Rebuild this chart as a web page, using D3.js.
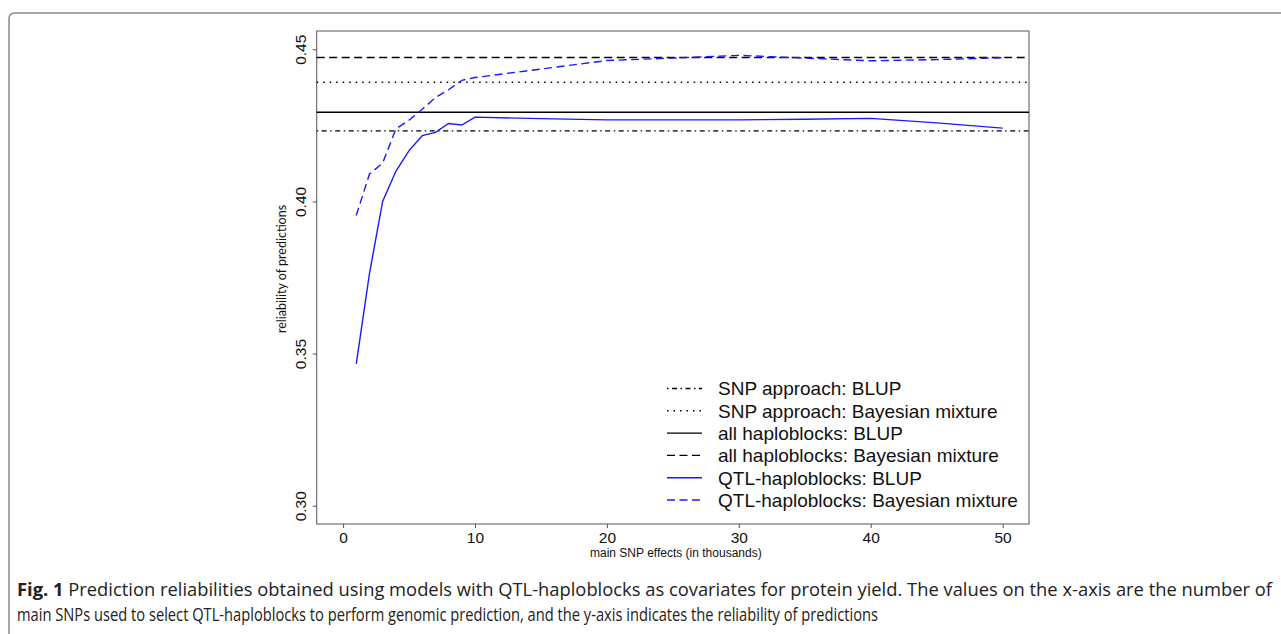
<!DOCTYPE html>
<html>
<head>
<meta charset="utf-8">
<script src="https://cdn.jsdelivr.net/npm/d3@7"></script>
<style>
  html, body { margin: 0; padding: 0; background: #fff; }
  svg { display: block; }
</style>
</head>
<body>
<div id="viz"></div>
<script>
// main SNP effects (in thousands)
var snpCounts = [1, 2, 3, 4, 5, 6, 7, 8, 9, 10, 15, 20, 25, 30, 35, 40, 45, 50];
// QTL-haploblocks reliabilities
var qtlBlup  = [0.3466, 0.3763, 0.4000, 0.4099, 0.4167, 0.4216, 0.4227, 0.4256, 0.4251, 0.4277,
                0.4272, 0.4268, 0.4268, 0.4268, 0.4270, 0.4273, 0.4258, 0.4241];
var qtlBayes = [0.3954, 0.4090, 0.4126, 0.4238, 0.4267, 0.4303, 0.4341, 0.4367, 0.4398, 0.4407,
                0.4435, 0.4463, 0.4471, 0.4480, 0.4471, 0.4462, 0.4466, 0.4472];
// constant reference reliabilities
var refNames  = ["SNP approach: BLUP", "SNP approach: Bayesian mixture",
                 "all haploblocks: BLUP", "all haploblocks: Bayesian mixture"];
var refValues = [0.4232, 0.4392, 0.4293, 0.4473];
var xTicks = [0, 10, 20, 30, 40, 50];
var yTicks = [0.30, 0.35, 0.40, 0.45];
var legendNames = refNames.concat(["QTL-haploblocks: BLUP", "QTL-haploblocks: Bayesian mixture"]);

var width = 1281, height = 634;
var plot = {left: 316.7, right: 1029, top: 31, bottom: 524};

var svg = d3.select("#viz").append("svg")
    .attr("width", width)
    .attr("height", height);

// figure frame (rounded top-left corner, runs off the page)
svg.append("path")
    .attr("d", "M9,640 V19 Q9,13 15,13 H1290")
    .attr("fill", "none")
    .attr("stroke", "#888")
    .attr("stroke-width", 1.5);

var x = d3.scaleLinear().domain([-2, 52]).range([plot.left, plot.right]);
var y = d3.scaleLinear().domain([0.294, 0.456]).range([plot.bottom, plot.top]);

var styles = [
  {color: "#000", dash: "1.5,3.5,5,3.5", width: 1.3},   // dash-dot
  {color: "#000", dash: "1.5,5",         width: 1.5},   // dotted
  {color: "#000", dash: null,            width: 1.3},   // solid
  {color: "#000", dash: "8,4.5",         width: 1.4},   // dashed
  {color: "#1a1aff", dash: null,         width: 1.4},
  {color: "#1a1aff", dash: "8,4.5",      width: 1.4}
];

var tickFont = "'Liberation Sans', Arial, sans-serif";

// plot box
svg.append("rect")
    .attr("x", plot.left).attr("y", plot.top)
    .attr("width", plot.right - plot.left)
    .attr("height", plot.bottom - plot.top)
    .attr("fill", "none")
    .attr("stroke", "#555")
    .attr("stroke-width", 1);

// x axis
var xAxis = svg.append("g")
    .attr("transform", "translate(0," + plot.bottom + ")")
    .call(d3.axisBottom(x).tickValues(xTicks).tickSize(4).tickPadding(4).tickFormat(d3.format("d")));
xAxis.select(".domain").remove();
xAxis.selectAll("line").attr("stroke", "#555");
xAxis.selectAll("text")
    .attr("font-family", tickFont)
    .attr("font-size", 15.5)
    .attr("fill", "#111");

// y axis, labels parallel to the axis as in R
var yAxis = svg.append("g")
    .attr("transform", "translate(" + plot.left + ",0)")
    .call(d3.axisLeft(y).tickValues(yTicks).tickSize(4).tickFormat(d3.format(".2f")));
yAxis.select(".domain").remove();
yAxis.selectAll("line").attr("stroke", "#555");
yAxis.selectAll("text")
    .attr("font-family", tickFont)
    .attr("font-size", 15.5)
    .attr("fill", "#111")
    .attr("x", null).attr("dy", null)
    .attr("text-anchor", "middle")
    .attr("transform", "translate(-11,0) rotate(-90)");

// axis titles
svg.append("text")
    .attr("x", (plot.left + plot.right) / 2 + 3)
    .attr("y", 557)
    .attr("text-anchor", "middle")
    .attr("font-family", tickFont)
    .attr("font-size", 12)
    .attr("fill", "#111")
    .text("main SNP effects (in thousands)");

svg.append("text")
    .attr("transform", "translate(286,269) rotate(-90)")
    .attr("text-anchor", "middle")
    .attr("font-family", "Lato, 'Open Sans', sans-serif")
    .attr("font-size", 12.5)
    .attr("fill", "#111")
    .text("reliability of predictions");

var g = svg.append("g");

// reference lines across the plot
g.selectAll(".ref")
    .data(refValues)
    .enter()
    .append("line")
    .attr("class", "ref")
    .attr("x1", plot.left).attr("x2", plot.right)
    .attr("y1", function(d) { return y(d); })
    .attr("y2", function(d) { return y(d); })
    .attr("stroke", function(d, i) { return styles[i].color; })
    .attr("stroke-width", function(d, i) { return styles[i].width; })
    .attr("stroke-dasharray", function(d, i) { return styles[i].dash; });

// QTL curves
var line = d3.line()
    .x(function(d) { return x(d[0]); })
    .y(function(d) { return y(d[1]); });

[qtlBlup, qtlBayes].forEach(function(series, k) {
  var st = styles[4 + k];
  g.append("path")
      .datum(d3.zip(snpCounts, series))
      .attr("d", line)
      .attr("fill", "none")
      .attr("stroke", st.color)
      .attr("stroke-width", st.width)
      .attr("stroke-dasharray", st.dash);
});

// legend (no box)
var legend = svg.append("g").attr("transform", "translate(667,388.5)");
var rows = legend.selectAll(".row")
    .data(legendNames)
    .enter()
    .append("g")
    .attr("transform", function(d, i) { return "translate(0," + (i * 22.3) + ")"; });
rows.append("line")
    .attr("x1", 0).attr("x2", 35)
    .attr("stroke", function(d, i) { return styles[i].color; })
    .attr("stroke-width", function(d, i) { return styles[i].width; })
    .attr("stroke-dasharray", function(d, i) { return styles[i].dash; });
rows.append("text")
    .attr("x", 51)
    .attr("dy", "0.36em")
    .attr("font-family", tickFont)
    .attr("font-size", 19)
    .attr("fill", "#111")
    .text(function(d) { return d; });

// caption
var capFont = "'Open Sans', 'Noto Sans', sans-serif";
var cap1 = svg.append("text")
    .attr("x", 17).attr("y", 596)
    .attr("font-family", capFont)
    .attr("font-size", 18.5)
    .attr("fill", "#222")
    .attr("textLength", 1255)
    .attr("lengthAdjust", "spacingAndGlyphs");
cap1.append("tspan").attr("font-weight", "bold").text("Fig. 1");
cap1.append("tspan").text(" Prediction reliabilities obtained using models with QTL-haploblocks as covariates for protein yield. The values on the x-axis are the number of");

svg.append("text")
    .attr("x", 17).attr("y", 621)
    .attr("font-family", capFont)
    .attr("font-size", 18.5)
    .attr("fill", "#222")
    .attr("textLength", 861)
    .attr("lengthAdjust", "spacingAndGlyphs")
    .text("main SNPs used to select QTL-haploblocks to perform genomic prediction, and the y-axis indicates the reliability of predictions");
</script>
</body>
</html>
